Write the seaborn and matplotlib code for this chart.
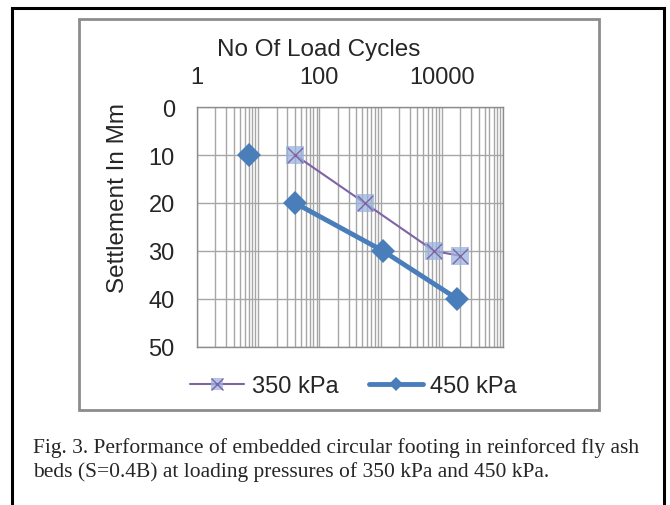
import pandas as pd
import matplotlib
matplotlib.use("Agg")
import matplotlib.pyplot as plt
import seaborn as sns
from matplotlib.lines import Line2D
from matplotlib.patches import Rectangle
from matplotlib.legend_handler import HandlerTuple
from matplotlib.ticker import FixedLocator, LogLocator, FuncFormatter, NullFormatter

# Values
cycles_350 = [40, 550, 7500, 20000]
settle_350 = [10, 20, 30, 31]
cycles_450 = [7, 40, 1100, 18000]
settle_450 = [10, 20, 30, 40]
run_450 = [0, 1, 1, 1]  # first 450 kPa point is not joined to the rest
x_labels = [1, 100, 10000]
x_decades = [1, 10, 100, 1000, 10000, 100000]
y_ticks = [0, 10, 20, 30, 40, 50]
series_names = ["350 kPa", "450 kPa"]

purple = "#7F63A5"
blue = "#4A7EBB"
light = (0.60, 0.70, 0.87, 0.75)
grid_col = "#A6A6A6"

sns.set_style("white")
plt.rcParams['font.family'] = ['Liberation Sans', 'DejaVu Sans']

df350 = pd.DataFrame({'cycles': cycles_350, 'settle': settle_350})
df450 = pd.DataFrame({'cycles': cycles_450, 'settle': settle_450, 'run': run_450})

fig = plt.figure(figsize=(6.7, 5.06), dpi=100)
ax = fig.add_axes([197 / 670, 1 - 348 / 506, 306 / 670, 240 / 506])
ax.set_xscale('log')

# 450 kPa series
sns.lineplot(data=df450, x='cycles', y='settle', units='run', estimator=None,
             color=blue, lw=3.5, marker='D', markersize=12, markeredgewidth=0,
             sort=False, ax=ax)
# 350 kPa series: thin line with translucent square and an x on top
sns.lineplot(data=df350, x='cycles', y='settle', estimator=None, color=purple,
             lw=1.5, marker='s', markersize=13, markerfacecolor=light,
             markeredgewidth=0, sort=False, ax=ax)
sns.scatterplot(data=df350, x='cycles', y='settle', marker='x', s=120,
                color=purple, linewidth=1, ax=ax, zorder=5)

ax.set_xlim(1, 100000)
ax.set_ylim(50, 0)
ax.set_xlabel("")
ax.set_ylabel("")

ax.xaxis.set_major_locator(FixedLocator(x_decades))
ax.xaxis.set_major_formatter(FuncFormatter(
    lambda v, p: f"{int(round(v))}" if int(round(v)) in x_labels else ""))
ax.xaxis.set_minor_locator(LogLocator(base=10, subs=range(2, 10), numticks=50))
ax.xaxis.set_minor_formatter(NullFormatter())
ax.set_yticks(y_ticks)

ax.tick_params(axis='x', which='both', top=True, bottom=False, labeltop=True,
               labelbottom=False, length=0, pad=14, labelsize=17)
ax.tick_params(axis='y', length=0, pad=16, labelsize=17)

ax.grid(True, axis='x', which='both', color=grid_col, lw=1)
ax.grid(True, axis='y', which='major', color=grid_col, lw=1)
ax.set_axisbelow(True)
for s in ax.spines.values():
    s.set_color("#8C8C8C")
    s.set_linewidth(1)

fig.text(319 / 670, 1 - 50 / 506, "No Of Load Cycles", ha='center', va='center',
         fontsize=17.5)
fig.text(118 / 670, 1 - 198 / 506, "Settlement In Mm", ha='center', va='center',
         rotation=90, fontsize=17.5)

# legend
h350 = (Line2D([], [], color=purple, lw=1.5, marker='s', ms=9,
               markerfacecolor=light, markeredgewidth=0),
        Line2D([], [], ls='', marker='x', color=purple, ms=8, mew=1))
h450 = Line2D([], [], color=blue, lw=3.5, marker='D', ms=7, markeredgewidth=0)
fig.legend([h350, h450], series_names, handler_map={tuple: HandlerTuple(ndivide=1)},
           ncol=2, loc='center', bbox_to_anchor=(0.5276, 1 - 387 / 506),
           frameon=False, fontsize=17, handlelength=2.3, handletextpad=0.3,
           columnspacing=1.3)

# chart box and outer figure box
fig.add_artist(Rectangle((79 / 670, 1 - 411 / 506), 520 / 670, 391 / 506,
                         transform=fig.transFigure, fill=False, ec="#8C8C8C", lw=2))
fig.add_artist(Rectangle((12 / 670, -0.05), 652 / 670, 1 - 9 / 506 + 0.05,
                         transform=fig.transFigure, fill=False, ec="black", lw=2.2))

serif = ['Liberation Serif', 'DejaVu Serif']
fig.text(33 / 670, 1 - 453 / 506,
         "Fig. 3. Performance of embedded circular footing in reinforced fly ash",
         family=serif, fontsize=15.5, va='baseline')
fig.text(33 / 670, 1 - 477 / 506,
         "beds (S=0.4B) at loading pressures of 350 kPa and 450 kPa.",
         family=serif, fontsize=15.5, va='baseline')

fig.savefig("out.png", dpi=100)
